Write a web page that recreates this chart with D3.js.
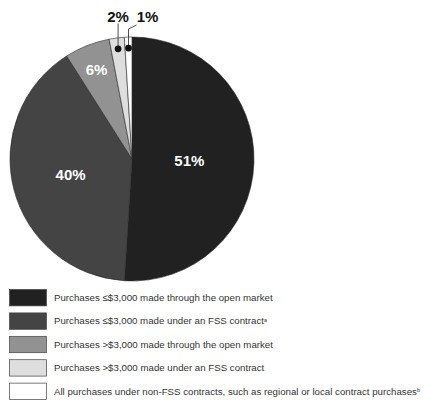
<!DOCTYPE html>
<html>
<head>
<meta charset="utf-8">
<script src="https://cdn.jsdelivr.net/npm/d3@7"></script>
<style>
  body { margin: 0; background: #fff; }
  svg { display: block; }
</style>
</head>
<body>
<script>
  // chart data
  const categories = [
    'Purchases \u2264$3,000 made through the open market',
    'Purchases \u2264$3,000 made under an FSS contract',
    'Purchases >$3,000 made through the open market',
    'Purchases >$3,000 made under an FSS contract',
    'All purchases under non-FSS contracts, such as regional or local contract purchases'
  ];
  const notes = ['', 'a', '', '', 'b'];
  const shares = [51, 40, 6, 2, 1];
  const shareLabels = ['51%', '40%', '6%', '2%', '1%'];

  const width = 441;
  const height = 403;
  const cx = 132, cy = 159, radius = 122;

  const fills = ['#212121', '#444444', '#929292', '#dedede', '#ffffff'];
  // where the inside labels sit, as a share of the radius
  const insideAt = [0.47, 0.52, 0.79];

  const svg = d3.select('body').append('svg')
    .attr('width', width)
    .attr('height', height);

  const pie = d3.pie().sort(null).value(d => d)(shares);
  const arc = d3.arc().innerRadius(0).outerRadius(radius);

  const g = svg.append('g').attr('transform', `translate(${cx},${cy})`);

  g.append('g')
    .selectAll('path')
    .data(pie)
    .enter().append('path')
    .attr('d', arc)
    .attr('fill', (d, i) => fills[i])
    .attr('stroke', '#2a2a2a')
    .attr('stroke-width', 0.6);

  // labels inside the big slices
  g.selectAll('.inlabel')
    .data(pie.slice(0, 3))
    .enter().append('text')
    .attr('class', 'inlabel')
    .attr('transform', (d, i) => {
      const r = radius * insideAt[i];
      const c = d3.arc().innerRadius(r).outerRadius(r).centroid(d);
      return `translate(${c[0]},${c[1]})`;
    })
    .attr('text-anchor', 'middle')
    .attr('dy', '0.35em')
    .attr('fill', '#fff')
    .style('font-family', 'Arial, "Liberation Sans", sans-serif')
    .style('font-weight', 'bold')
    .style('font-size', '15px')
    .text((d, i) => shareLabels[i]);

  // small slices: dot + leader + label above the pie
  const dotArc = d3.arc().innerRadius(radius * 0.91).outerRadius(radius * 0.91);
  const small = pie.slice(3);
  small.forEach((d, k) => {
    const p = dotArc.centroid(d);
    const baseY = -radius - 15.5;
    const lg = g.append('g');
    if (k === 0) {
      lg.append('line')
        .attr('x1', p[0]).attr('y1', p[1])
        .attr('x2', p[0]).attr('y2', baseY + 2)
        .attr('stroke', '#222').attr('stroke-width', 0.8);
      lg.append('text')
        .attr('x', p[0]).attr('y', baseY)
        .attr('text-anchor', 'middle')
        .text(shareLabels[d.index]);
    } else {
      lg.append('path')
        .attr('d', `M${p[0]},${p[1]}V${-radius - 8}L${p[0] + 8},${-radius - 12}`)
        .attr('fill', 'none')
        .attr('stroke', '#222').attr('stroke-width', 0.8);
      lg.append('text')
        .attr('x', p[0] + 19).attr('y', baseY)
        .attr('text-anchor', 'middle')
        .text(shareLabels[d.index]);
    }
    lg.append('circle')
      .attr('cx', p[0]).attr('cy', p[1]).attr('r', 3.4)
      .attr('fill', '#111');
    lg.selectAll('text')
      .attr('fill', '#111')
      .style('font-family', 'Arial, "Liberation Sans", sans-serif')
      .style('font-weight', 'bold')
      .style('font-size', '15px');
  });

  // legend
  const y = d3.scaleBand().domain(d3.range(categories.length)).range([289, 399]).paddingInner(0.3);

  const legend = svg.append('g').attr('class', 'legend');
  const rows = legend.selectAll('g')
    .data(categories)
    .enter().append('g')
    .attr('transform', (d, i) => `translate(0,${y(i)})`);

  rows.append('rect')
    .attr('x', 9.5).attr('y', 0.5)
    .attr('width', 37).attr('height', y.bandwidth())
    .attr('fill', (d, i) => fills[i])
    .attr('stroke', '#444')
    .attr('stroke-width', 0.7);

  const txt = rows.append('text')
    .attr('x', 54)
    .attr('y', y.bandwidth() / 2 + 0.5)
    .attr('dy', '0.35em')
    .attr('fill', '#333')
    .style('font-family', 'Arial, "Liberation Sans", sans-serif')
    .style('font-size', '9.7px')
    .text(d => d);
  txt.append('tspan')
    .attr('dy', '-0.45em')
    .style('font-size', '5.5px')
    .text((d, i) => notes[i]);
</script>
</body>
</html>
